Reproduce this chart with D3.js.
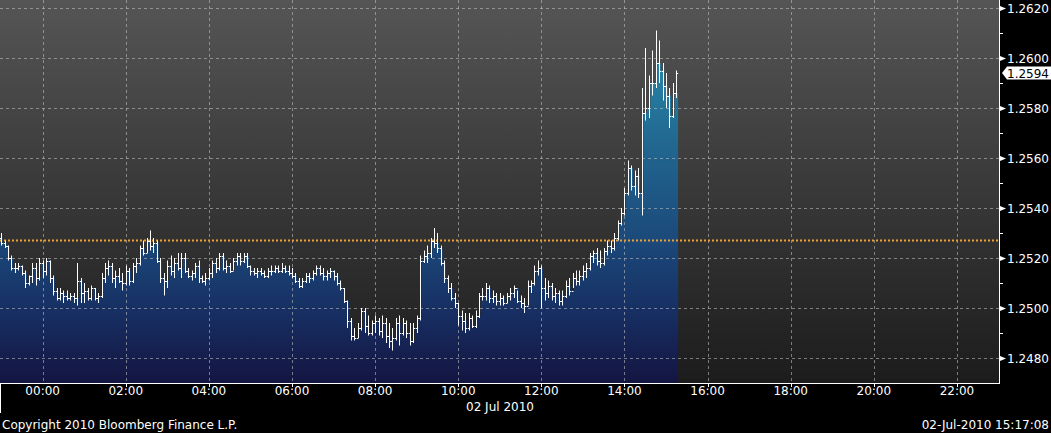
<!DOCTYPE html>
<html>
<head>
<meta charset="utf-8">
<script src="https://cdn.jsdelivr.net/npm/d3@7/dist/d3.min.js"></script>
<style>
  html, body { margin: 0; padding: 0; background: #000; }
  svg { display: block; }
  text { font-family: "DejaVu Sans", Verdana, sans-serif; }
</style>
</head>
<body>
<svg id="chart" width="1051" height="433"></svg>
<script>
// ---------------- DATA ----------------
// 5-minute bars starting 01-Jul-2010 23:00 (clock as shown on the axis)
const barStart = "2010-07-01T23:00:00Z";
const barMinutes = 5;

const highs = [
  1.2530,1.2527,1.2525,1.2521,1.2518,1.2518,1.2517,1.2515,1.2513,1.2518,1.2518,1.2520,
  1.2519,1.2520,1.2519,1.2513,1.2508,1.2508,1.2507,1.2507,1.2506,1.2506,1.2518,1.2512,
  1.2510,1.2508,1.2509,1.2508,1.2506,1.2514,1.2518,1.2519,1.2518,1.2515,1.2516,1.2514,
  1.2517,1.2516,1.2518,1.2520,1.2525,1.2527,1.2528,1.2531,1.2528,1.2527,1.2520,1.2514,
  1.2519,1.2521,1.2520,1.2522,1.2522,1.2522,1.2516,1.2515,1.2518,1.2519,1.2513,1.2514,
  1.2516,1.2519,1.2520,1.2522,1.2522,1.2519,1.2518,1.2520,1.2522,1.2522,1.2522,1.2522,
  1.2517,1.2516,1.2516,1.2516,1.2515,1.2516,1.2517,1.2517,1.2517,1.2518,1.2517,1.2517,
  1.2516,1.2514,1.2512,1.2512,1.2514,1.2514,1.2515,1.2517,1.2517,1.2516,1.2515,1.2516,
  1.2515,1.2514,1.2511,1.2508,1.2503,1.2496,1.2492,1.2494,1.2500,1.2500,1.2497,1.2495,
  1.2497,1.2496,1.2497,1.2496,1.2494,1.2492,1.2496,1.2497,1.2496,1.2495,1.2494,1.2494,
  1.2497,1.2521,1.2523,1.2525,1.2528,1.2532,1.2530,1.2525,1.2519,1.2513,1.2510,1.2506,
  1.2502,1.2499,1.2498,1.2498,1.2497,1.2499,1.2506,1.2508,1.2510,1.2509,1.2507,1.2506,
  1.2506,1.2505,1.2506,1.2508,1.2509,1.2507,1.2505,1.2504,1.2511,1.2511,1.2517,1.2519,
  1.2517,1.2512,1.2511,1.2510,1.2508,1.2507,1.2507,1.2511,1.2512,1.2514,1.2515,1.2515,
  1.2517,1.2518,1.2522,1.2523,1.2524,1.2523,1.2524,1.2527,1.2527,1.2530,1.2535,1.2540,
  1.2548,1.2559,1.2557,1.2555,1.2556,1.2588,1.2604,1.2593,1.2603,1.2611,1.2607,1.2598,
  1.2594,1.2588,1.2590,1.2595
];
const lows = [
  1.2525,1.2524,1.2519,1.2515,1.2514,1.2515,1.2513,1.2508,1.2509,1.2510,1.2509,1.2511,
  1.2512,1.2513,1.2510,1.2505,1.2503,1.2503,1.2502,1.2503,1.2503,1.2502,1.2501,1.2502,
  1.2502,1.2503,1.2503,1.2503,1.2502,1.2504,1.2510,1.2513,1.2510,1.2508,1.2510,1.2507,
  1.2509,1.2509,1.2510,1.2514,1.2517,1.2521,1.2522,1.2523,1.2522,1.2518,1.2510,1.2505,
  1.2508,1.2513,1.2512,1.2515,1.2512,1.2514,1.2512,1.2511,1.2512,1.2510,1.2510,1.2509,
  1.2511,1.2512,1.2514,1.2515,1.2515,1.2514,1.2514,1.2515,1.2517,1.2517,1.2518,1.2516,
  1.2513,1.2513,1.2512,1.2513,1.2512,1.2512,1.2513,1.2514,1.2514,1.2514,1.2514,1.2513,
  1.2512,1.2510,1.2508,1.2508,1.2510,1.2510,1.2511,1.2513,1.2513,1.2511,1.2511,1.2512,
  1.2511,1.2509,1.2507,1.2502,1.2492,1.2487,1.2487,1.2488,1.2491,1.2490,1.2489,1.2489,
  1.2490,1.2489,1.2488,1.2486,1.2484,1.2483,1.2487,1.2485,1.2489,1.2488,1.2485,1.2486,
  1.2490,1.2495,1.2518,1.2518,1.2520,1.2524,1.2522,1.2517,1.2510,1.2506,1.2503,1.2500,
  1.2493,1.2491,1.2490,1.2491,1.2492,1.2492,1.2496,1.2503,1.2503,1.2502,1.2502,1.2501,
  1.2501,1.2501,1.2502,1.2503,1.2504,1.2502,1.2500,1.2498,1.2501,1.2506,1.2509,1.2513,
  1.2500,1.2503,1.2504,1.2503,1.2502,1.2501,1.2501,1.2504,1.2505,1.2508,1.2509,1.2509,
  1.2511,1.2512,1.2515,1.2518,1.2517,1.2516,1.2517,1.2521,1.2522,1.2523,1.2527,1.2533,
  1.2537,1.2545,1.2547,1.2545,1.2544,1.2537,1.2575,1.2576,1.2585,1.2588,1.2590,1.2583,
  1.2580,1.2572,1.2576,1.2584
];
const closes = [
  1.2526,1.2525,1.2520,1.2516,1.2516,1.2517,1.2514,1.2510,1.2513,1.2516,1.2512,1.2518,
  1.2515,1.2519,1.2512,1.2507,1.2504,1.2506,1.2505,1.2504,1.2505,1.2504,1.2511,1.2506,
  1.2507,1.2504,1.2508,1.2504,1.2505,1.2512,1.2516,1.2517,1.2512,1.2513,1.2511,1.2510,
  1.2515,1.2511,1.2517,1.2518,1.2524,1.2522,1.2527,1.2525,1.2526,1.2519,1.2512,1.2511,
  1.2517,1.2515,1.2518,1.2516,1.2520,1.2515,1.2513,1.2514,1.2517,1.2512,1.2511,1.2512,
  1.2514,1.2518,1.2516,1.2521,1.2516,1.2517,1.2515,1.2519,1.2521,1.2519,1.2521,1.2517,
  1.2515,1.2514,1.2515,1.2514,1.2513,1.2515,1.2515,1.2516,1.2515,1.2516,1.2515,1.2514,
  1.2513,1.2511,1.2509,1.2511,1.2513,1.2512,1.2514,1.2516,1.2514,1.2513,1.2514,1.2515,
  1.2513,1.2510,1.2508,1.2503,1.2495,1.2489,1.2488,1.2492,1.2499,1.2493,1.2490,1.2494,
  1.2495,1.2491,1.2494,1.2489,1.2487,1.2488,1.2494,1.2490,1.2494,1.2490,1.2487,1.2492,
  1.2496,1.2519,1.2521,1.2522,1.2527,1.2526,1.2524,1.2518,1.2512,1.2508,1.2504,1.2502,
  1.2497,1.2495,1.2492,1.2496,1.2493,1.2497,1.2505,1.2505,1.2508,1.2504,1.2505,1.2503,
  1.2504,1.2502,1.2505,1.2506,1.2508,1.2503,1.2502,1.2501,1.2509,1.2510,1.2515,1.2516,
  1.2508,1.2506,1.2509,1.2505,1.2506,1.2503,1.2505,1.2509,1.2507,1.2512,1.2511,1.2513,
  1.2515,1.2516,1.2521,1.2522,1.2519,1.2518,1.2523,1.2525,1.2524,1.2528,1.2534,1.2538,
  1.2546,1.2556,1.2549,1.2553,1.2546,1.2578,1.2580,1.2590,1.2590,1.2598,1.2595,1.2589,
  1.2585,1.2577,1.2586,1.2594
];
// first bar's open (subsequent opens = previous bar close)
const firstOpen = 1.2528;

const prevClose = 1.2527;          // dotted orange reference line
const lastPrice = 1.2594;          // price tag on the axis
const yTicks = [1.2480, 1.2500, 1.2520, 1.2540, 1.2560, 1.2580, 1.2600, 1.2620];
const yMinorTicks = [1.2490, 1.2510, 1.2530, 1.2550, 1.2570, 1.2590, 1.2610];
const xTickLabels = ["00:00","02:00","04:00","06:00","08:00","10:00","12:00","14:00","16:00","18:00","20:00","22:00"];
const dateLabel = "02 Jul 2010";
const footerLeft = "Copyright 2010 Bloomberg Finance L.P.";
const footerRight = "02-Jul-2010 15:17:08";
const domainStart = "2010-07-01T23:00:00Z";
const domainEnd = "2010-07-02T23:00:00Z";

// ---------------- LAYOUT ----------------
const W = 1051, H = 433;
const plot = { left: 0, top: 0, right: 999, bottom: 383 };
const FS = "12px";

const svg = d3.select("#chart");
svg.append("rect").attr("width", W).attr("height", H).attr("fill", "#000");

const x = d3.scaleUtc()
  .domain([new Date(domainStart), new Date(domainEnd)])
  .range([1.1, 998.5]);
const y = d3.scaleLinear()
  .domain([1.2470, 1.26232])
  .range([plot.bottom, plot.top]);

const t0 = new Date(barStart).getTime();
const bars = closes.map((c, i) => ({
  t: new Date(t0 + i * barMinutes * 60000),
  o: i === 0 ? firstOpen : closes[i - 1],
  h: highs[i], l: lows[i], c: c
}));

const defs = svg.append("defs");
const bg = defs.append("linearGradient").attr("id", "bg")
  .attr("gradientUnits", "userSpaceOnUse")
  .attr("x1", 0).attr("y1", plot.top).attr("x2", 0).attr("y2", plot.bottom);
bg.append("stop").attr("offset", 0).attr("stop-color", "#555555");
bg.append("stop").attr("offset", 1).attr("stop-color", "#1c1c1c");

const ag = defs.append("linearGradient").attr("id", "areaGrad")
  .attr("gradientUnits", "userSpaceOnUse")
  .attr("x1", 0).attr("y1", plot.top).attr("x2", 0).attr("y2", plot.bottom);
[[0.0, "#2f95b5"], [0.2, "#267fa2"], [0.4, "#21648e"], [0.62, "#1b4a7b"],
 [0.82, "#172e62"], [1.0, "#141541"]].forEach(([o, c]) =>
  ag.append("stop").attr("offset", o).attr("stop-color", c));

defs.append("clipPath").attr("id", "plotClip").append("rect")
  .attr("x", plot.left).attr("y", plot.top)
  .attr("width", plot.right - plot.left).attr("height", plot.bottom - plot.top);

// plot background
svg.append("rect")
  .attr("x", plot.left).attr("y", plot.top)
  .attr("width", plot.right - plot.left).attr("height", plot.bottom - plot.top)
  .attr("fill", "url(#bg)");

const g = svg.append("g").attr("clip-path", "url(#plotClip)");

// area under the open/close steps
const halfTick = 1.7;
const areaPts = [];
bars.forEach((b, i) => {
  const cx = x(b.t);
  areaPts.push([i === 0 ? 0 : cx - halfTick, b.o]);
  areaPts.push([cx + halfTick, b.c]);
});
const area = d3.area()
  .x(d => d[0]).y0(plot.bottom).y1(d => y(d[1]))
  .curve(d3.curveStepAfter);
g.append("path").datum(areaPts).attr("d", area).attr("fill", "url(#areaGrad)");

// grid
const gridColor = "#bdbdbd";
g.append("g").selectAll("line").data(yTicks).join("line")
  .attr("x1", plot.left).attr("x2", plot.right)
  .attr("y1", d => Math.round(y(d)) + 0.5).attr("y2", d => Math.round(y(d)) + 0.5)
  .attr("stroke", gridColor).attr("stroke-opacity", 0.6)
  .attr("stroke-dasharray", "3,3");
const evenHours = d3.utcHour.every(2).range(new Date("2010-07-02T00:00:00Z"), new Date(domainEnd));
g.append("g").selectAll("line").data(evenHours).join("line")
  .attr("x1", d => Math.round(x(d)) + 0.5).attr("x2", d => Math.round(x(d)) + 0.5)
  .attr("y1", plot.top).attr("y2", plot.bottom)
  .attr("stroke", gridColor).attr("stroke-opacity", 0.6)
  .attr("stroke-dasharray", "3,3");

// previous close dotted line
g.append("line")
  .attr("x1", plot.left).attr("x2", plot.right)
  .attr("y1", y(prevClose)).attr("y2", y(prevClose))
  .attr("stroke", "#f0a030").attr("stroke-width", 2)
  .attr("stroke-dasharray", "2,2");

// OHLC bars
const bg2 = g.append("g").attr("stroke", "#ffffff").attr("stroke-width", 1).attr("fill", "none");
bars.forEach(b => {
  const cx = Math.round(x(b.t)) + 0.5;
  bg2.append("line").attr("x1", cx).attr("x2", cx)
    .attr("y1", y(b.h)).attr("y2", y(b.l));
  bg2.append("line").attr("x1", cx - halfTick).attr("x2", cx)
    .attr("y1", Math.round(y(b.o)) + 0.5).attr("y2", Math.round(y(b.o)) + 0.5);
  bg2.append("line").attr("x1", cx).attr("x2", cx + halfTick)
    .attr("y1", Math.round(y(b.c)) + 0.5).attr("y2", Math.round(y(b.c)) + 0.5);
});

// axes frame lines
svg.append("line").attr("x1", plot.right + 0.5).attr("x2", plot.right + 0.5)
  .attr("y1", 0).attr("y2", plot.bottom + 1).attr("stroke", "#fff");
svg.append("line").attr("x1", 0).attr("x2", plot.right + 1)
  .attr("y1", plot.bottom + 0.5).attr("y2", plot.bottom + 0.5).attr("stroke", "#fff");
svg.append("line").attr("x1", 0.5).attr("x2", 0.5)
  .attr("y1", plot.bottom).attr("y2", 413).attr("stroke", "#fff");

// right axis
const ra = svg.append("g");
yTicks.forEach(v => {
  const yy = Math.round(y(v)) + 0.5;
  ra.append("path")
    .attr("d", `M${plot.right + 1},${yy - 2.5} L${plot.right + 7},${yy} L${plot.right + 1},${yy + 2.5} Z`)
    .attr("fill", "#fff");
  ra.append("text").attr("x", 1007).attr("y", yy + 4.5)
    .attr("fill", "#fff").attr("font-size", FS)
    .text(d3.format(".4f")(v));
});
yMinorTicks.forEach(v => {
  const yy = Math.round(y(v)) + 0.5;
  ra.append("line").attr("x1", plot.right + 1).attr("x2", plot.right + 4)
    .attr("y1", yy).attr("y2", yy).attr("stroke", "#fff");
});

// last price tag
const ly = y(lastPrice);
ra.append("path")
  .attr("d", `M${plot.right + 3},${ly} L${plot.right + 8},${ly - 6.5} L1051,${ly - 6.5} L1051,${ly + 6.5} L${plot.right + 8},${ly + 6.5} Z`)
  .attr("fill", "#fff");
ra.append("text").attr("x", 1007).attr("y", ly + 4.5)
  .attr("fill", "#000").attr("font-size", FS)
  .text(d3.format(".4f")(lastPrice));

// bottom axis
const ba = svg.append("g");
const oddHours = d3.utcHour.every(2).range(new Date("2010-07-02T01:00:00Z"), new Date(domainEnd));
oddHours.forEach(d => {
  const xx = Math.round(x(d)) + 0.5;
  ba.append("line").attr("x1", xx).attr("x2", xx)
    .attr("y1", plot.bottom + 1).attr("y2", plot.bottom + 4).attr("stroke", "#fff");
});
evenHours.forEach((d, i) => {
  ba.append("text").attr("x", x(d)).attr("y", 395)
    .attr("text-anchor", "middle").attr("fill", "#fff").attr("font-size", FS)
    .text(xTickLabels[i]);
});
ba.append("text").attr("x", 500).attr("y", 411)
  .attr("text-anchor", "middle").attr("fill", "#fff").attr("font-size", FS)
  .text(dateLabel);

// footer
svg.append("text").attr("x", 2).attr("y", 429)
  .attr("fill", "#fff").attr("font-size", FS).text(footerLeft);
svg.append("text").attr("x", 1049).attr("y", 429).attr("text-anchor", "end")
  .attr("fill", "#fff").attr("font-size", FS).text(footerRight);
</script>
</body>
</html>
